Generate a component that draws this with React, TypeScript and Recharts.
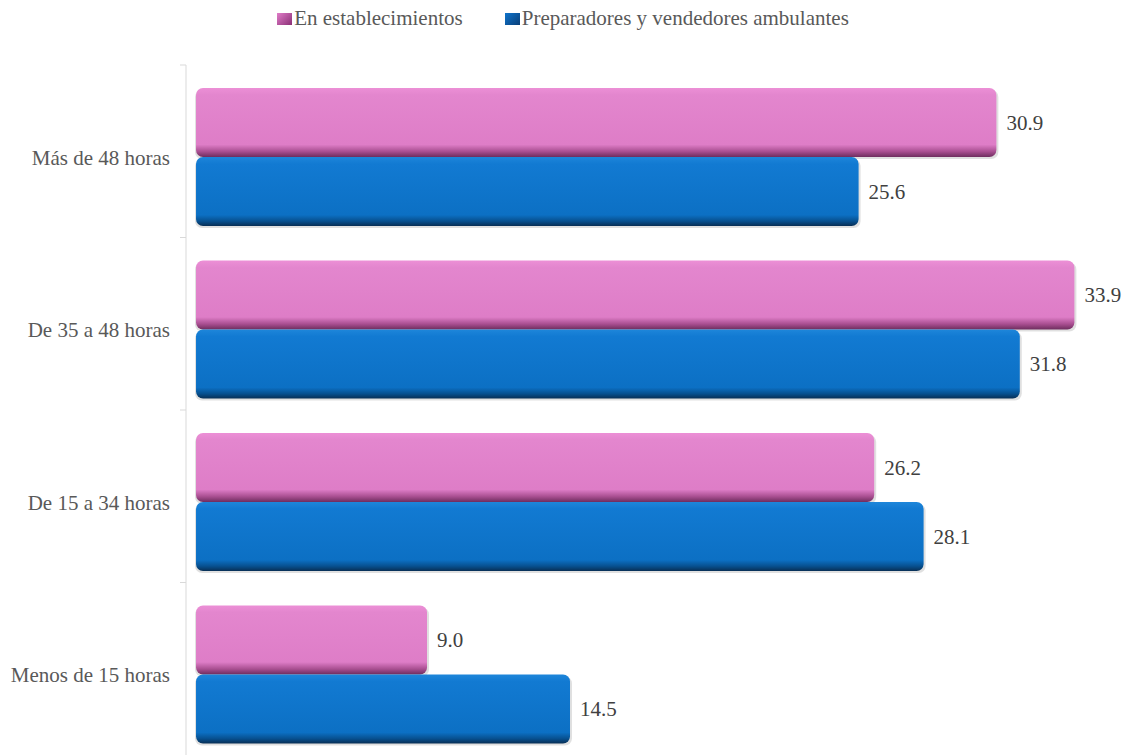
import { BarChart, Bar, XAxis, YAxis, Legend, LabelList } from 'recharts'

const categories = ['Más de 48 horas', 'De 35 a 48 horas', 'De 15 a 34 horas', 'Menos de 15 horas']
const enEstablecimientos = [30.9, 33.9, 26.2, 9.0]
const ambulantes = [25.6, 31.8, 28.1, 14.5]

const seriesNames = ['En establecimientos', 'Preparadores y vendedores ambulantes']
const seriesColors = ['#e07cc8', '#0f74cc']

const data = categories.map((c, i) => ({
  category: c,
  est: enEstablecimientos[i],
  amb: ambulantes[i]
}))

// bars in the original are drawn with a bit of 3D depth, the front face sits a few px lower
const DEPTH = 6
const FONT = "'Times New Roman', 'Liberation Serif', Times, serif"
const FS = 21

const Bar3D = ({ x, y, width, height, gradId }: any) => {
  if (!width || width <= 0) return null
  return (
    <g>
      <rect x={x + 2} y={y + DEPTH + 2} width={width} height={height} rx={7} fill="#000" opacity={0.12} />
      <rect x={x + 3} y={y + DEPTH} width={width - 3} height={height} rx={7} fill={`url(#${gradId})`} />
    </g>
  )
}

const CategoryTick = ({ x, y, payload, bandSize }: any) => {
  const half = (bandSize || 172.5) / 2
  return (
    <g>
      <line x1={x + 2} x2={x + 8} y1={y - half} y2={y - half} stroke="#d9d9d9" />
      <text x={x - 8} y={y + DEPTH} dy="0.35em" textAnchor="end" fill="#595959" fontSize={FS} fontFamily={FONT}>
        {payload.value}
      </text>
    </g>
  )
}

const ValueLabel = ({ x, y, width, height, value }: any) => (
  <text
    x={x + width + 10}
    y={y + height / 2 + DEPTH}
    dy="0.35em"
    fill="#404040"
    fontSize={FS}
    fontFamily={FONT}
  >
    {Number(value).toFixed(1)}
  </text>
)

const LegendContent = () => (
  <div style={{ display: 'flex', justifyContent: 'center', gap: 42, fontFamily: FONT, fontSize: FS, color: '#595959' }}>
    {seriesNames.map((n, i) => (
      <span key={n} style={{ display: 'flex', alignItems: 'center' }}>
        <span
          style={{
            width: 15,
            height: 12,
            marginRight: 2,
            display: 'inline-block',
            background: `linear-gradient(135deg, ${seriesColors[i]}, ${i === 0 ? '#8a2f75' : '#0a3f78'})`
          }}
        />
        {n}
      </span>
    ))}
  </div>
)

export default function App() {
  return (
    <div style={{ position: 'absolute', left: 0, top: 0, width: 1126, height: 755, overflow: 'hidden', background: '#fff', fontFamily: FONT }}>
      <BarChart
        width={1126}
        height={755}
        data={data}
        layout="vertical"
        barGap={0}
        margin={{ top: 25, right: 23, left: 0, bottom: 0 }}
      >
        <defs>
          <linearGradient id="pinkGrad" x1="0" y1="0" x2="0" y2="1">
            <stop offset="0%" stopColor="#ec8fd6" />
            <stop offset="10%" stopColor="#e386ce" />
            <stop offset="82%" stopColor="#de7dc7" />
            <stop offset="92%" stopColor="#a94f91" />
            <stop offset="100%" stopColor="#6e2d5e" />
          </linearGradient>
          <linearGradient id="blueGrad" x1="0" y1="0" x2="0" y2="1">
            <stop offset="0%" stopColor="#1e86da" />
            <stop offset="10%" stopColor="#127ad2" />
            <stop offset="84%" stopColor="#0c70c4" />
            <stop offset="93%" stopColor="#07508f" />
            <stop offset="100%" stopColor="#082f55" />
          </linearGradient>
        </defs>
        <Legend
          verticalAlign="top"
          height={40}
          wrapperStyle={{ top: 6, left: 0, width: 1126 }}
          content={<LegendContent />}
        />
        <XAxis type="number" domain={[-0.27, 35]} hide />
        <YAxis
          type="category"
          dataKey="category"
          width={186}
          axisLine={{ stroke: '#d9d9d9' }}
          tickLine={false}
          tick={<CategoryTick />}
          interval={0}
        />
        <Bar
          dataKey="est"
          name={seriesNames[0]}
          fill={seriesColors[0]}
          barSize={69}
          shape={<Bar3D gradId="pinkGrad" />}
          isAnimationActive={false}
        >
          <LabelList dataKey="est" content={<ValueLabel />} />
        </Bar>
        <Bar
          dataKey="amb"
          name={seriesNames[1]}
          fill={seriesColors[1]}
          barSize={69}
          shape={<Bar3D gradId="blueGrad" />}
          isAnimationActive={false}
        >
          <LabelList dataKey="amb" content={<ValueLabel />} />
        </Bar>
      </BarChart>
    </div>
  )
}
